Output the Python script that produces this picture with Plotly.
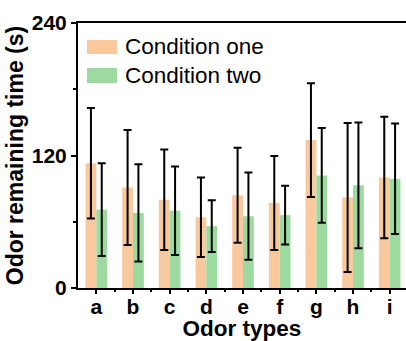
import plotly.graph_objects as go

categories = ["a", "b", "c", "d", "e", "f", "g", "h", "i"]
cond_one = [113, 91, 80, 64, 84, 77, 134, 82, 100]
cond_one_err = [50, 52, 45.5, 36, 43, 42.5, 51.5, 67.5, 55]
cond_two = [71, 68, 70, 56, 65, 66, 102, 93, 99]
cond_two_err = [42, 44, 40, 23.5, 39.5, 26.5, 43, 57, 50]
y_ticks = [0, 120, 240]
series_names = ["Condition one", "Condition two"]

ORANGE = "#F9C89D"
GREEN = "#9DDA9F"
FONT = "Liberation Sans, Arial, sans-serif"

x_pos = list(range(len(categories)))

fig = go.Figure()
for vals, errs, col, name in [(cond_one, cond_one_err, ORANGE, series_names[0]),
                              (cond_two, cond_two_err, GREEN, series_names[1])]:
    fig.add_trace(go.Bar(
        x=x_pos, y=vals, name=name, marker=dict(color=col, line=dict(width=0)),
        error_y=dict(type="data", array=errs, visible=True, color="black",
                     thickness=2, width=4),
        showlegend=False,
    ))

W, H = 406, 341
ml, mr, mt, mb = 78, 0, 23, 53
pw, ph = W - ml - mr, H - mt - mb

def px(xp):
    return (xp - ml) / pw

def py(yp):
    return (mt + ph - yp) / ph

# manual legend
shapes = []
annotations = []
for (y0, y1), col, name in [((40, 54), ORANGE, series_names[0]), ((68, 83), GREEN, series_names[1])]:
    shapes.append(dict(type="rect", xref="paper", yref="paper",
                       x0=px(87), x1=px(117), y0=py(y1), y1=py(y0),
                       fillcolor=col, line=dict(width=0)))
    annotations.append(dict(xref="paper", yref="paper", x=px(123), y=py((y0 + y1) / 2),
                            text=name, showarrow=False, xanchor="left", yanchor="middle",
                            font=dict(family=FONT, size=22.5, color="black")))

fig.update_layout(
    width=W, height=H,
    margin=dict(l=ml, r=mr, t=mt, b=mb),
    paper_bgcolor="white", plot_bgcolor="white",
    barmode="group", bargap=0.41, bargroupgap=0,
    shapes=shapes, annotations=annotations,
    font=dict(family=FONT, color="black"),
    xaxis=dict(
        range=[-0.5, 8.445], tickvals=x_pos, ticktext=categories,
        showline=True, linecolor="black", linewidth=2, mirror=True,
        ticks="outside", ticklen=4, tickwidth=2, tickcolor="black",
        minor=dict(tickvals=[i + 0.5 for i in x_pos], ticks="outside", ticklen=2,
                   tickwidth=2, tickcolor="black"),
        tickfont=dict(family=FONT, size=21, color="black", weight="bold"),
        ticklabelstandoff=-5,
        title=dict(text="<b>Odor types</b>", font=dict(family=FONT, size=22.5, color="black"),
                   standoff=3),
        showgrid=False, zeroline=False,
    ),
    yaxis=dict(
        range=[0, 240], tickvals=y_ticks,
        showline=True, linecolor="black", linewidth=2, mirror=False,
        ticks="outside", ticklen=5, tickwidth=2, tickcolor="black",
        minor=dict(dtick=60, ticks="outside", ticklen=3, tickwidth=2, tickcolor="black"),
        tickfont=dict(family=FONT, size=21, color="black", weight="bold"),
        title=dict(text="<b>Odor remaining time (s)</b>",
                   font=dict(family=FONT, size=23, color="black"), standoff=2),
        showgrid=False, zeroline=False,
    ),
)

fig.write_html("out.html")
